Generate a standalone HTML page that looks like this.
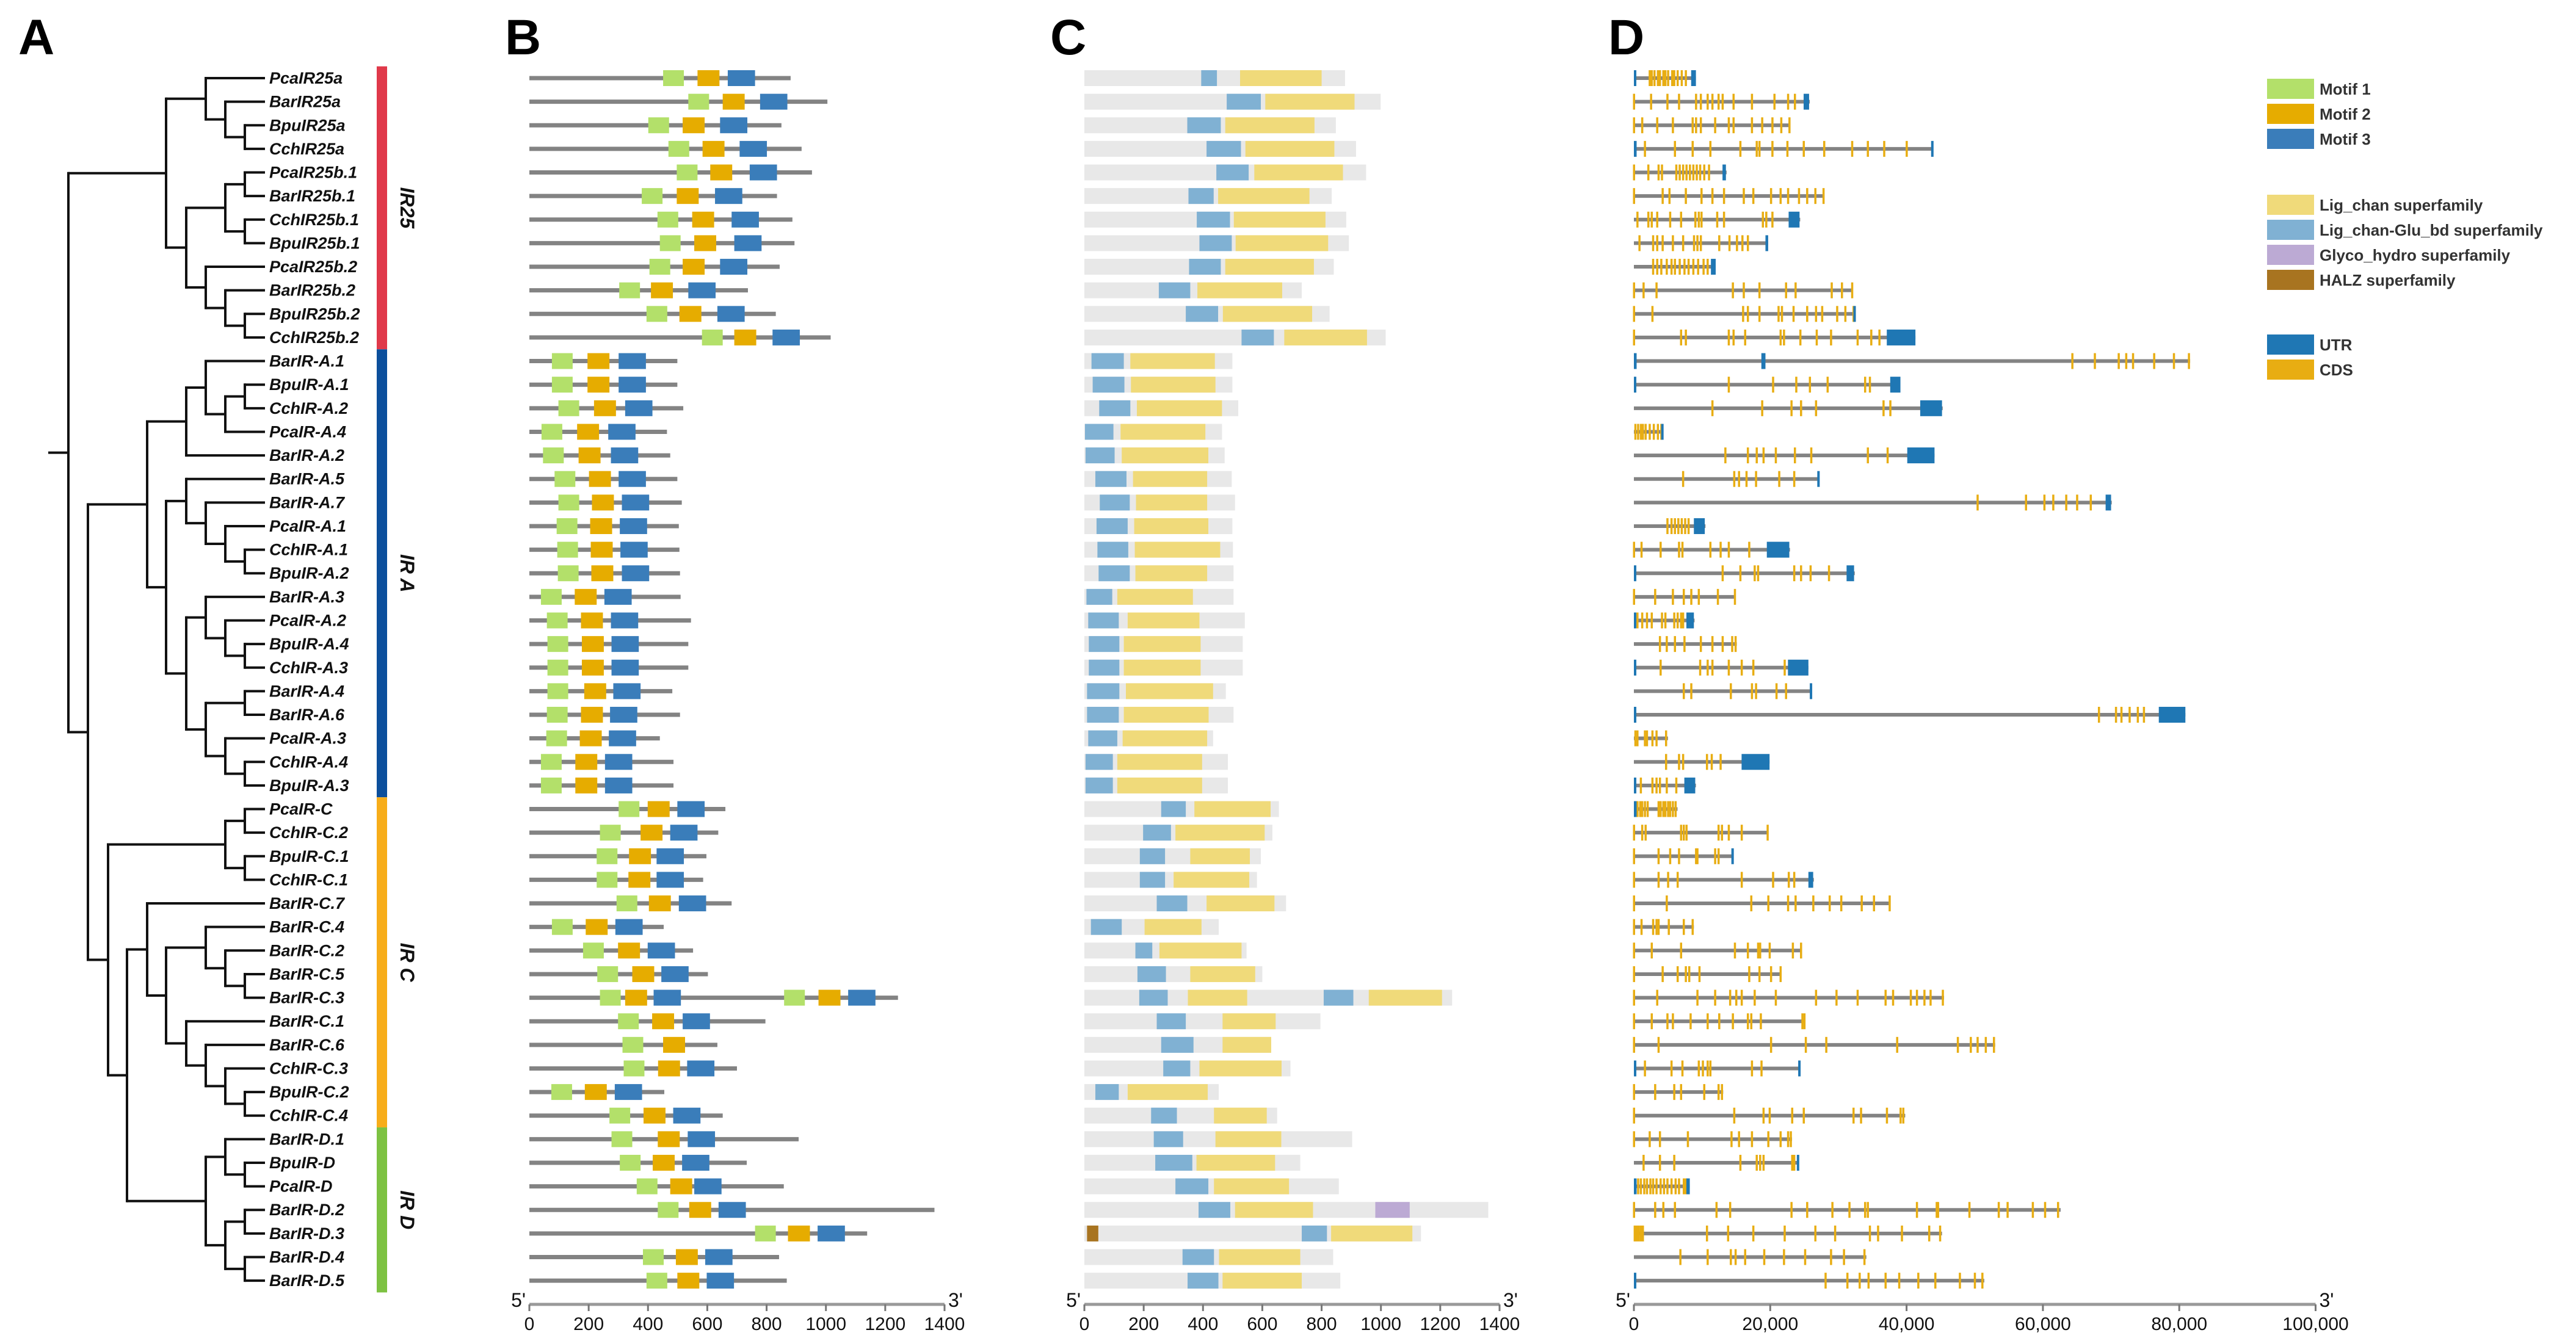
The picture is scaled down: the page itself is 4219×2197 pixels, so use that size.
<!DOCTYPE html>
<html><head><meta charset="utf-8"><title>IR gene structure</title>
<style>
html,body{margin:0;padding:0;background:#fff;}
svg{display:block;}
text{font-family:"Liberation Sans",Arial,sans-serif;}
</style></head>
<body>
<svg id="fig" xmlns="http://www.w3.org/2000/svg" width="4219" height="2197" viewBox="0 0 4219 2197">
  <text x="30" y="89" font-size="82" font-weight="bold">A</text>
  <text x="827" y="89" font-size="82" font-weight="bold">B</text>
  <text x="1720" y="89" font-size="82" font-weight="bold">C</text>
  <text x="2634" y="89" font-size="82" font-weight="bold">D</text>
  <g id="tree"></g>
  <g id="labels"></g>
  <g id="groups"></g>
  <g id="panelB"></g>
  <g id="panelC"></g>
  <g id="panelD"></g>
  <g id="legend"></g>
</svg>
<script>
const rowNames=["PcaIR25a","BarIR25a","BpuIR25a","CchIR25a","PcaIR25b.1","BarIR25b.1","CchIR25b.1","BpuIR25b.1","PcaIR25b.2","BarIR25b.2","BpuIR25b.2","CchIR25b.2",
"BarIR-A.1","BpuIR-A.1","CchIR-A.2","PcaIR-A.4","BarIR-A.2","BarIR-A.5","BarIR-A.7","PcaIR-A.1","CchIR-A.1","BpuIR-A.2","BarIR-A.3","PcaIR-A.2","BpuIR-A.4","CchIR-A.3","BarIR-A.4","BarIR-A.6","PcaIR-A.3","CchIR-A.4","BpuIR-A.3",
"PcaIR-C","CchIR-C.2","BpuIR-C.1","CchIR-C.1","BarIR-C.7","BarIR-C.4","BarIR-C.2","BarIR-C.5","BarIR-C.3","BarIR-C.1","BarIR-C.6","CchIR-C.3","BpuIR-C.2","CchIR-C.4",
"BarIR-D.1","BpuIR-D","PcaIR-D","BarIR-D.2","BarIR-D.3","BarIR-D.4","BarIR-D.5"];

// Groups
const groupNames=["IR25","IR A","IR C","IR D"];
const groupFirst=[0,12,31,45];
const groupLast=[11,30,44,51];
const groupColors=["#e0394a","#0c4f9c","#f7ad1a","#7dc242"];

// Tree topology: [level, child, child], leaves are row indices
const treeIR25=[6,[8,0,[9,1,[10,2,3]]],[7,[9,[10,4,5],[10,6,7]],[8,8,[9,9,[10,10,11]]]]];
const treeIRA=[5,[7,[8,12,[9,[10,13,14],15]],16],[6,[7,17,[8,18,[9,19,[10,20,21]]]],[7,[8,22,[9,23,[10,24,25]]],[8,[10,26,27],[9,28,[10,29,30]]]]]];
const treeC1=[9,[10,31,32],[10,33,34]];
const treeC3=[6,[8,36,[9,37,[10,38,39]]],[7,40,[8,41,[9,42,[10,43,44]]]]];
const treeD=[8,[9,45,[10,46,47]],[9,[10,48,49],[10,50,51]]];
const treeRoot=[1,treeIR25,[2,treeIRA,[3,treeC1,[4,[5,35,treeC3],treeD]]]];

// Panel B: protein length and motif starts (aa)
const bLen=[881,1005,850,918,953,835,887,894,844,737,831,1016,499,499,519,464,475,499,514,504,506,508,510,545,536,536,482,508,440,486,486,661,637,597,586,682,453,552,602,1243,796,634,700,455,652,908,733,858,1366,1139,842,868];
const m1Start=[451,536,401,469,497,379,432,440,405,303,395,582,76,76,98,41,46,85,98,92,94,96,39,59,61,61,61,59,57,39,39,301,238,227,227,294,76,181,229,238,299,314,318,74,270,277,305,362,433,761,383,395];
const m2Start=[567,652,517,584,610,497,549,556,517,410,506,691,196,196,218,161,166,201,211,205,207,209,153,174,177,177,185,174,170,155,155,399,375,336,334,403,190,299,347,323,414,451,434,187,385,433,416,475,539,872,494,499];
const m3Start=[669,778,643,709,743,626,682,691,643,536,634,820,301,301,323,266,275,301,312,305,307,312,253,275,277,277,283,272,268,255,255,499,475,429,429,504,290,399,445,419,517,null,532,288,485,534,515,556,638,972,593,598];
const bExtraRow=[39];
const bExtraM1=[859];
const bExtraM2=[975];
const bExtraM3=[1075];

// Panel C: domains (aa)
const cLen=[879,999,848,916,950,834,883,892,841,733,827,1016,499,499,519,464,473,497,508,499,501,503,503,541,534,534,477,503,434,484,484,656,634,595,582,680,453,547,600,1240,796,630,695,453,650,903,728,858,1362,1135,839,863];
const gluStart=[394,480,347,412,445,351,379,388,353,251,342,530,24,28,50,2,4,37,52,41,44,48,7,13,15,15,9,9,13,4,4,259,198,187,187,244,22,172,179,185,244,259,266,37,225,234,239,307,385,733,331,348];
const gluEnd=[447,595,460,528,554,436,491,497,460,357,451,639,133,135,155,98,102,142,153,146,148,153,94,116,118,118,118,116,111,96,96,342,292,272,272,347,126,229,275,281,342,368,357,116,312,333,364,418,492,818,437,452];
const ligStart=[525,610,475,543,573,451,504,510,475,381,467,674,155,157,177,122,126,164,174,168,170,172,111,146,133,133,140,133,129,111,111,371,307,357,301,412,203,253,357,349,466,466,388,146,437,442,378,437,508,832,454,466];
const ligEnd=[800,911,776,843,872,759,813,822,774,667,768,953,440,442,464,408,418,414,414,418,458,414,366,388,392,392,434,419,414,397,397,628,608,558,556,641,395,530,576,549,645,630,665,416,615,664,643,690,771,1106,728,733];
const cExtraRow=[39];
const cExtraGlu=[[807,907]];
const cExtraLig=[[959,1206]];
const glycoRow=[48];
const glycoSpan=[[981,1097]];
const halzRow=[49];
const halzSpan=[[9,47]];

// Panel D: gene length and exons (kb)
const dLen=[9.1,25.8,22.9,43.9,13.6,27.9,24.4,19.7,12,32.1,32.5,41.3,81.6,39,45.3,4.2,44.1,27.1,70.1,10.5,22.9,32.4,14.9,8.9,15.1,25.6,26.1,80.9,5,19.9,9.1,6.4,19.7,14.5,26.4,37.6,8.8,24.6,21.6,45.5,25,53,24.3,13.1,39.8,23.2,24.2,8.2,62.6,45.2,34.1,51.4];
const dCds=[
[2.3,2.6,3.0,3.5,3.8,4.3,4.6,5.0,5.6,5.9,6.4,7.0,7.6],
[0,2.5,4.9,6.6,9.1,9.8,10.8,11.5,12.4,13,14.6,17.3,20.6,22.6,23.6],
[0,1.2,3.4,5.7,8.6,9.1,9.8,11.9,13.9,14.6,17.3,18.8,20.3,21.6,22.8],
[1.6,6,8.6,11.2,15.6,18,18.4,20.3,22.5,24.9,27.9,32,34.3,36.7,40],
[0,2.1,3.6,4.1,6.2,6.7,7.2,7.7,8.2,8.7,9.2,9.7,10.3,11],
[0,4.2,5.2,7.6,9.9,11.5,13.2,16.1,17.5,20.1,21.5,22.6,24.2,25.4,26.6,27.8],
[0.5,2.1,2.6,3.4,5.3,6.9,9,9.5,9.9,12.2,13.2,18.9,19.4,20.3],
[0.8,2.8,3.4,4.2,5.7,7.2,8.8,9.3,9.8,12.5,14,15.1,15.9,16.7],
[2.8,3.4,4,4.8,5.5,6,6.7,7.4,8,8.7,9.4,10.2,10.8],
[0,1.4,3.3,14.5,16.1,18.4,22.3,23.7,29,30.5,32],
[0,2.7,16,16.7,18.4,21.2,21.7,23.4,25.4,26.7,27.6,29.8,31,32.2],
[0,6.9,7.6,13.9,14.6,16.3,21.5,22,24.4,26.8,28.9,32.8,34.8,36],
[64.3,67.6,71.1,72.2,73.2,76.3,79.2,81.4],
[13.9,20.4,23.8,25.8,28.4,33.9,34.6],
[11.5,18.8,23.1,24.5,26.7,36.6,37.6],
[0.2,0.6,1.0,1.3,1.7,2.3,2.9,3.5,4.0],
[13.4,16.7,18,19,20.8,23.6,26,34.3,37.2],
[7.2,14.7,15.4,16.5,17.9,21.3,23.5],
[50.4,57.5,60.2,61.5,63.4,65,67],
[4.9,5.5,6,6.5,7,7.5,8],
[0,1.1,3.9,6.6,7.1,11.2,12.7,13.9,16.9],
[13,15.6,17.7,18.2,23.5,24.5,25.9,28.6],
[0,3.1,5.7,7.3,8.4,9.5,12.3,14.8],
[0.5,1.2,1.9,2.6,4.1,4.6,5.9,6.4,6.9,7.2],
[3.8,4.8,6,7.4,9.8,11.5,13,14.4,14.9],
[3.9,9.7,10.8,11.5,13.9,15.8,17.5,22.1],
[7.3,8.4,14.2,17.3,17.9,20.9,22.3],
[68.2,70.7,71.5,72.7,73.9,74.8],
[0.2,0.5,1.6,1.9,2.7,3.3,4.7],
[4.7,6.6,7.2,10.7,11.4,12.7],
[1,2.7,3.3,3.8,4.8,6.2],
[0.5,0.9,1.2,1.6,2.0,3.6,3.9,4.3,4.6,5.0,5.3,5.7,6.1],
[0,1.2,1.7,6.9,7.3,7.7,12.4,12.9,13.9,15.8,19.6],
[0,3.6,5.3,6.6,9.1,9.3,11.9,12.4],
[0,3.6,5,6.4,15.8,20.4,22.7,23.5],
[0,4.8,17.2,19.7,22.6,23.7,26.3,28.7,30.4,33.4,35.2,37.5],
[0,1.1,2.8,3.3,3.6,5.1,7.3,8.6],
[0,2.6,6.9,14.8,16.7,18.2,18.5,19.9,23.3,24.5],
[0,4.2,6.4,7.6,8.1,9.6,16.9,18.4,20.1,21.5],
[0,3.4,9.3,11.9,14.1,15,15.8,17.7,20.8,26.7,29.7,32.8,36.9,38,40.6,41.5,42.6,43.5,45.3],
[0,2.6,4.9,5.7,8.3,10.8,12.5,14.5,16.7,17.2,18.6,24.7,25],
[0,3.6,20.1,25.2,28.2,38.6,47.5,49.4,50.4,51.6,52.8],
[1.6,5.5,7.1,9.5,10.1,10.8,11.2,17.3,18.7],
[0,3.1,5.9,6.9,10.3,12.4,12.9],
[0,14.7,19,19.9,23.2,24.9,32.2,33.3,37.1,39.1,39.5],
[0,2.3,3.8,7.9,14.3,15.4,17.3,19.7,21.5,22.6,23],
[1.4,3.8,5.9,15.6,18,18.5,19,23.2,23.5],
[0.6,1.0,1.5,1.9,2.4,2.8,3.3,3.9,4.4,4.9,5.5,6.1,6.6,7.3,7.6],
[0,3.1,4.3,6,12.1,14.1,23.1,25.4,29.1,31.6,33.9,34.3,41.5,44.4,44.6,49.2,53.5,54.8,58.5,60.3,62.2],
[0.1,0.4,0.7,1.0,1.3,10.7,13.8,17.5,22.1,26.6,29.5,34.6,35.8,39.3,43.3,44.9],
[6.8,10.8,14.2,14.9,16.3,19.1,22,25.1,28.9,30.8,33.8],
[28.1,31.3,33.1,34.4,36.9,38.9,41.7,44.2,47.8,50,51.1]];
const dUtr=[
[[0,0.2],[8.4,9.1]],[[24.9,25.7]],[],[[0,0.4],[43.6,43.9]],[[13,13.5]],[],[[22.7,24.3]],[[19.3,19.7]],[[11.3,12]],[],[[32.2,32.5]],[[37.1,41.3]],
[[0,0.4],[18.7,19.3]],[[0,0.3],[37.6,39.1]],[[42,45.2]],[[4.0,4.2]],[[40.1,44.1]],[[26.9,27.1]],[[69.2,70]],[[8.8,10.4]],[[19.5,22.8]],[[0,0.2],[31.2,32.3]],[],[[0,0.2],[7.7,8.8]],[],[[0,0.2],[22.6,25.6]],[[25.8,26.1]],[[0,0.3],[77,80.9]],[],[[15.8,19.9]],[[0,0.2],[7.4,9]],
[[0,0.4]],[],[[14.3,14.5]],[[25.6,26.3]],[],[],[],[],[],[],[],[[0,0.2],[24.1,24.3]],[],[],
[],[[23.9,24.2]],[[0,0.4],[7.7,8.2]],[],[],[],[[0,0.2]]];

const ticksAA=[0,200,400,600,800,1000,1200,1400];
const ticksBP=[0,20000,40000,60000,80000,100000];
const tickBPLabels=["0","20,000","40,000","60,000","80,000","100,000"];

const legendMotif=["Motif 1","Motif 2","Motif 3"];
const legendDomain=["Lig_chan superfamily","Lig_chan-Glu_bd superfamily","Glyco_hydro superfamily","HALZ superfamily"];
const legendGene=["UTR","CDS"];

const NS="http://www.w3.org/2000/svg";
const C={m1:"#b3e06a",m2:"#e6ac00",m3:"#3a7dba",lig:"#f0da7a",glu:"#80b1d3",gly:"#bcaad4",halz:"#a87420",bg:"#e8e8e8",utr:"#1f77b4",cds:"#e8ad12",line:"#838383"};
function el(tag,attrs,parent){const e=document.createElementNS(NS,tag);for(const k in attrs)e.setAttribute(k,attrs[k]);parent.appendChild(e);return e;}
const rowY=i=>128+38.63*i;
const levelX=[79,112,144,177,208,241,272,305,337,369,401];
const tipX=434;
const xB=a=>867+a*0.4857;
const xC=a=>1776+a*0.4857;
const xD=kb=>2676+kb*11.165;
const BH=26;

// Tree
const gT=document.getElementById('tree');
function nodeX(n){return Array.isArray(n)?levelX[n[0]]:tipX;}
function drawNode(n){
  if(!Array.isArray(n))return rowY(n);
  const x=levelX[n[0]];
  const ys=n.slice(1).map(c=>{const cy=drawNode(c);
    const h=el('line',{x1:x,y1:cy,x2:nodeX(c),y2:cy,stroke:"#111","stroke-width":4},gT);
    
    
    return cy;});
  const y1=Math.min(...ys),y2=Math.max(...ys);
  const v=el('line',{x1:x,y1:y1-2,x2:x,y2:y2+2,stroke:"#111","stroke-width":4},gT);
  
  
  return (y1+y2)/2;
}
const rootY=drawNode(treeRoot);
const stub=el('line',{x1:levelX[0],y1:rootY,x2:levelX[1],y2:rootY,stroke:"#111","stroke-width":4},gT);



// Labels
const gL=document.getElementById('labels');
rowNames.forEach((nm,i)=>{
  const t=el('text',{x:441,y:rowY(i)+9,"font-size":27,"font-weight":"bold","font-style":"italic",fill:"#111"},gL);
  t.textContent=nm;
  
  
});

// Group bars
const gG=document.getElementById('groups');
groupNames.forEach((g,k)=>{
  const y1=rowY(groupFirst[k])-19.3,y2=rowY(groupLast[k])+19.3;
  const r=el('rect',{x:617,y:y1,width:17,height:y2-y1,fill:groupColors[k]},gG);
  
  
  const cy=(y1+y2)/2;
  const t=el('text',{x:656,y:cy,"font-size":32,"font-weight":"bold","font-style":"italic","text-anchor":"middle",transform:`rotate(90 656 ${cy})`,fill:"#111"},gG);
  t.textContent=g;
  
  
});

// Panel B
const gB=document.getElementById('panelB');
function motif(x,y,w,col,parent){
  const r=el('rect',{x:x,y:y-BH/2,width:w,height:BH,fill:col},parent);
  
  
}
bLen.forEach((L,i)=>{
  const y=rowY(i);
  const ln=el('line',{x1:xB(0),y1:y,x2:xB(L),y2:y,stroke:C.line,"stroke-width":7},gB);
  
  
  motif(xB(m1Start[i]),y,xB(70)-xB(0),C.m1,gB);
  motif(xB(m2Start[i]),y,xB(74)-xB(0),C.m2,gB);
  if(m3Start[i]!==null)motif(xB(m3Start[i]),y,xB(92)-xB(0),C.m3,gB);
});
bExtraRow.forEach((r,k)=>{const y=rowY(r);
  motif(xB(bExtraM1[k]),y,xB(70)-xB(0),C.m1,gB);
  motif(xB(bExtraM2[k]),y,xB(74)-xB(0),C.m2,gB);
  motif(xB(bExtraM3[k]),y,xB(92)-xB(0),C.m3,gB);});

// Panel C
const gC=document.getElementById('panelC');
function dom(a,b,y,col,parent,name){
  const r=el('rect',{x:xC(a),y:y-BH/2,width:xC(b)-xC(a),height:BH,fill:col},parent);
  
  
}
cLen.forEach((L,i)=>{const y=rowY(i);
  dom(0,L,y,C.bg,gC,'protein-background');
  dom(gluStart[i],gluEnd[i],y,C.glu,gC,'lig-chan-glu-bd-domain');
  dom(ligStart[i],ligEnd[i],y,C.lig,gC,'lig-chan-domain');});
cExtraRow.forEach((r,k)=>{const y=rowY(r);
  dom(cExtraGlu[k][0],cExtraGlu[k][1],y,C.glu,gC,'lig-chan-glu-bd-domain');
  dom(cExtraLig[k][0],cExtraLig[k][1],y,C.lig,gC,'lig-chan-domain');});
glycoRow.forEach((r,k)=>dom(glycoSpan[k][0],glycoSpan[k][1],rowY(r),C.gly,gC,'glyco-hydro-domain'));
halzRow.forEach((r,k)=>dom(halzSpan[k][0],halzSpan[k][1],rowY(r),C.halz,gC,'halz-domain'));

// Panel D
const gD=document.getElementById('panelD');
dLen.forEach((L,i)=>{const y=rowY(i);
  const ln=el('line',{x1:xD(0),y1:y,x2:xD(L),y2:y,stroke:C.line,"stroke-width":6},gD);
  
  
  dCds[i].forEach(p=>{
    const r=el('rect',{x:xD(p)-1.5,y:y-13,width:3.5,height:26,fill:C.cds},gD);
    
    });
  dUtr[i].forEach(u=>{
    const w=Math.max(xD(u[1])-xD(u[0]),4);
    const r=el('rect',{x:xD(u[0]),y:y-13,width:w,height:26,fill:C.utr},gD);
    
    });
});

// Axes
function axis(parent,x0,x1,ticks,labels,scale,name){
  const y=2137;
  const a=el('line',{x1:x0,y1:y,x2:x1,y2:y,stroke:"#999","stroke-width":5},parent);
  
  
  ticks.forEach((t,k)=>{const x=scale(t);
    const tk=el('line',{x1:x,y1:y,x2:x,y2:y+11,stroke:"#777","stroke-width":3},parent);
    
    
    const tl=el('text',{x:x,y:y+42,"font-size":30,"text-anchor":"middle",fill:"#111"},parent);
    tl.textContent=labels[k];
    
    });
  const e5=el('text',{x:x0-6,y:y+4,"font-size":32,"text-anchor":"end",fill:"#111"},parent);
  e5.textContent="5'";
  
  
  const e3=el('text',{x:x1+6,y:y+4,"font-size":32,fill:"#111"},parent);
  e3.textContent="3'";
  
  
}
axis(gB,xB(0),xB(1400),ticksAA,ticksAA.map(String),xB,'x-axis-b');
axis(gC,xC(0),xC(1400),ticksAA,ticksAA.map(String),xC,'x-axis-c');
axis(gD,xD(0),xD(100),ticksBP,tickBPLabels,v=>xD(v/1000),'x-axis-d');

// Legend
const gLg=document.getElementById('legend');
function legItem(y,col,label){
  const r=el('rect',{x:3713,y:y,width:77,height:33,fill:col},gLg);
  
  
  const t=el('text',{x:3799,y:y+26,"font-size":26,"font-weight":"bold",fill:"#333"},gLg);
  t.textContent=label;
  
  
}
[C.m1,C.m2,C.m3].forEach((c,k)=>legItem(129+41*k,c,legendMotif[k]));
[C.lig,C.glu,C.gly,C.halz].forEach((c,k)=>legItem(319+41*k,c,legendDomain[k]));
[C.utr,C.cds].forEach((c,k)=>legItem(548+41*k,c,legendGene[k]));
</script>
</body></html>
